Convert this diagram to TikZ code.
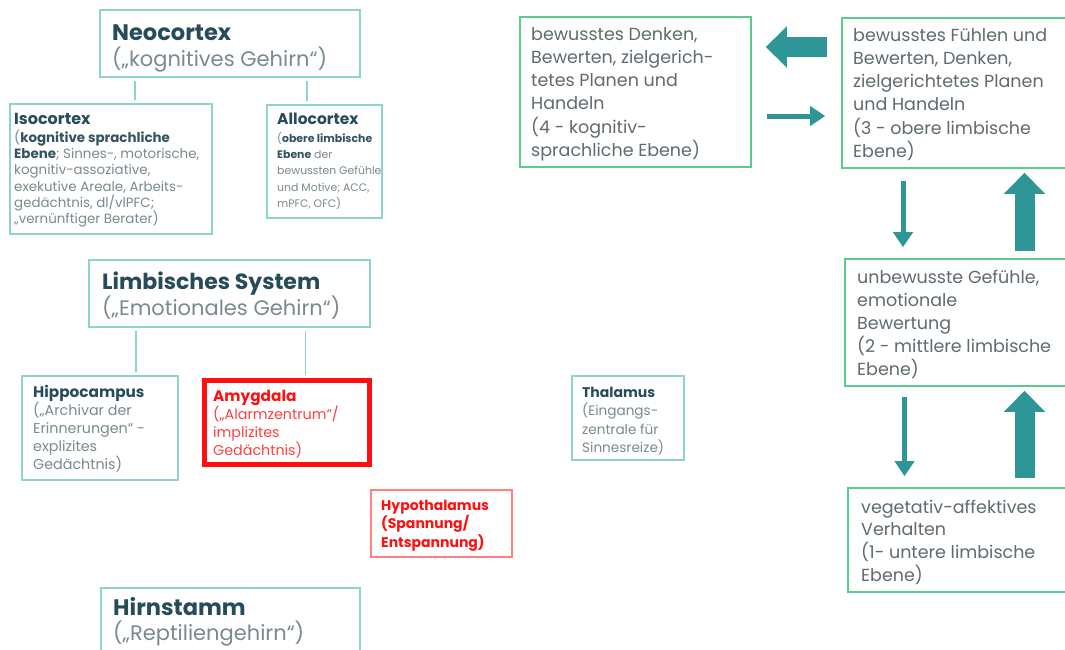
\documentclass[tikz,border=0pt]{standalone}
\usepackage{fontspec}
\setmainfont{Poppins}
\usetikzlibrary{arrows.meta,fit}
\definecolor{boxteal}{HTML}{8ED3CC}
\definecolor{boxgreen}{HTML}{5DCB8D}
\definecolor{arrowteal}{HTML}{2E9696}
\definecolor{titlecol}{HTML}{264B5A}
\definecolor{bodygray}{HTML}{7A8A8F}
\definecolor{rightgray}{HTML}{5F6B70}
\definecolor{alarmred}{HTML}{FF1010}
\definecolor{lightred}{HTML}{FF8080}
\newcommand\txtbox[2]{\parbox[t]{#1}{\raggedright\leavevmode #2}}
\tikzset{
  leftbox/.style={draw=boxteal, line width=1.3pt, inner sep=0pt},
  rightbox/.style={draw=boxgreen, line width=1.6pt, inner sep=0pt},
  redbox/.style={draw=alarmred, line width=5pt, inner sep=0pt},
  hypobox/.style={draw=lightred, line width=1.2pt, inner sep=0pt},
  txt/.style={anchor=base west, inner sep=0pt},
  conn/.style={draw=boxteal, line width=1.2pt, shorten >=3pt, shorten <=3pt},
  thickarrow/.style={draw=arrowteal, line width=20pt, -{Triangle[width=40pt,length=21pt]}},
  thinarrow/.style={draw=arrowteal, line width=5pt, -{Triangle[width=19pt,length=15pt]}},
}
\begin{document}
\begin{tikzpicture}[x=1pt,y=-1pt]
\useasboundingbox[fill=white] (0,0) rectangle (1065,649);
% ---- left boxes
\node[leftbox, fit={(100,10) (360,77)}] (neo) {};
\node[leftbox, fit={(10,104) (212,234)}] (iso) {};
\node[leftbox, fit={(267,105) (382,218)}] (allo) {};
\node[leftbox, fit={(89,260) (370,327)}] (limb) {};
\node[leftbox, fit={(22,376) (178,480)}] (hippo) {};
\node[redbox, fit={(204.5,380.5) (369.5,464.5)}] (amyg) {};
\node[leftbox, fit={(572,376) (684,460)}] (thal) {};
\node[hypobox, fit={(371,490) (512,557)}] (hypo) {};
\node[leftbox, fit={(101,588) (360,665)}] (hirn) {};
% ---- left texts
\node[txt] (neoT) at (112,40) {\txtbox{260pt}{\fontsize{22.5}{26}\selectfont\color{titlecol}\textbf{Neocortex}\par
 \fontsize{21}{26}\selectfont\color{bodygray}(„kognitives Gehirn“)}};
\node[txt] (isoT) at (14,124) {\txtbox{200pt}{{\fontsize{16}{15}\selectfont\color{titlecol}\textbf{Isocortex}\par}
 \vspace{2pt}\fontsize{13.4}{16.3}\selectfont\color{bodygray}(\textcolor{titlecol!85!bodygray}{\textbf{kognitive sprachliche}}\\
 \textcolor{titlecol!85!bodygray}{\textbf{Ebene}}; Sinnes-, motorische,\\
 kognitiv-assoziative,\\
 exekutive Areale, Arbeits-\\
 gedächtnis, dl/vlPFC;\\
 „vernünftiger Berater)}};
\node[txt] (alloT) at (277,124) {\txtbox{120pt}{{\fontsize{15.5}{15}\selectfont\color{titlecol}\textbf{Allocortex}\par}
 \vspace{2pt}\fontsize{10.9}{16.3}\selectfont\color{bodygray}(\textcolor{titlecol!85!bodygray}{\textbf{obere limbische}}\\
 \textcolor{titlecol!85!bodygray}{\textbf{Ebene}} der\\
 bewussten Gefühle\\
 und Motive; ACC,\\
 mPFC, OFC)}};
\node[txt] (limbT) at (102,289) {\txtbox{280pt}{\fontsize{22}{26}\selectfont\color{titlecol}\textbf{Limbisches System}\par
 \fontsize{21}{26}\selectfont\color{bodygray}(„Emotionales Gehirn“)}};
\node[txt] (hippoT) at (33,397) {\txtbox{150pt}{{\fontsize{15.3}{17}\selectfont\color{titlecol}\textbf{Hippocampus}\par}
 \fontsize{14.3}{18}\selectfont\color{bodygray}(„Archivar der\\
 Erinnerungen“ -\\
 explizites\\
 Gedächtnis)}};
\node[txt] (amygT) at (213,401) {\txtbox{155pt}{{\fontsize{15.3}{17}\selectfont\color{alarmred}\textbf{Amygdala}\par}
 \fontsize{14.3}{18}\selectfont\color{alarmred!80}(„Alarmzentrum“/\\
 implizites\\
 Gedächtnis)}};
\node[txt] (thalT) at (582,397) {\txtbox{100pt}{{\fontsize{14}{17}\selectfont\color{titlecol}\textbf{Thalamus}\par}
 \fontsize{13.6}{18.5}\selectfont\color{bodygray}(Eingangs-\\
 zentrale für\\
 Sinnesreize)}};
\node[txt] (hypoT) at (381,510) {\txtbox{130pt}{\fontsize{14}{18.5}\selectfont\color{alarmred}\bfseries Hypothalamus\\
 (Spannung/\\
 Entspannung)}};
\node[txt] (hirnT) at (113,615) {\txtbox{260pt}{\fontsize{22.5}{25}\selectfont\color{titlecol}\textbf{Hirnstamm}\par
 \fontsize{21}{25}\selectfont\color{bodygray}(„Reptiliengehirn“)}};
% ---- left connectors
\draw[conn] ([xshift=24pt]iso.north) -- ([xshift=24pt]iso.north |- neo.south);
\draw[conn] ([xshift=-17.5pt]allo.north) -- ([xshift=-17.5pt]allo.north |- neo.south);
\draw[conn] ([xshift=36pt]hippo.north) -- ([xshift=36pt]hippo.north |- limb.south);
\draw[conn] ([xshift=18.5pt]amyg.north) -- ([xshift=18.5pt]amyg.north |- limb.south);
% ---- right boxes
\node[rightbox, fit={(520,17) (751,167)}] (four) {};
\node[rightbox, fit={(842,18) (1070,168)}] (three) {};
\node[rightbox, fit={(845,259) (1070,386)}] (two) {};
\node[rightbox, fit={(848,488) (1070,592)}] (one) {};
\node[txt] (fourT) at (531,40) {\txtbox{220pt}{\fontsize{17.5}{23.3}\selectfont\color{rightgray}bewusstes Denken,\\
 Bewerten, zielgerich-\\
 tetes Planen und\\
 Handeln\\
 (4 - kognitiv-\\
 sprachliche Ebene)}};
\node[txt] (threeT) at (853,41) {\txtbox{220pt}{\fontsize{17.5}{23.3}\selectfont\color{rightgray}bewusstes Fühlen und\\
 Bewerten, Denken,\\
 zielgerichtetes Planen\\
 und Handeln\\
 (3 - obere limbische\\
 Ebene)}};
\node[txt] (twoT) at (857,283) {\txtbox{220pt}{\fontsize{17.5}{23}\selectfont\color{rightgray}unbewusste Gefühle,\\
 emotionale\\
 Bewertung\\
 (2 - mittlere limbische\\
 Ebene)}};
\node[txt] (oneT) at (861,513) {\txtbox{220pt}{\fontsize{17.5}{22.8}\selectfont\color{rightgray}vegetativ-affektives\\
 Verhalten\\
 (1- untere limbische\\
 Ebene)}};
% ---- right arrows
\draw[thickarrow] ([yshift=46pt,xshift=-14pt]three.west) -- ([yshift=46pt,xshift=14pt]three.west -| four.east);
\draw[thinarrow] ([yshift=-24pt,xshift=15pt]four.east) -- ([yshift=-24pt,xshift=-16pt]four.east -| three.west);
\draw[thinarrow] ([xshift=-53pt,yshift=-12pt]three.south) -- ([xshift=-53pt,yshift=11pt]three.south |- two.north);
\draw[thickarrow] ([xshift=67pt,yshift=7pt]two.north) -- ([xshift=67pt,yshift=-4pt]two.north |- three.south);
\draw[thinarrow] ([xshift=-53pt,yshift=-10pt]two.south) -- ([xshift=-53pt,yshift=11pt]two.south |- one.north);
\draw[thickarrow] ([xshift=67pt,yshift=9pt]one.north -| two.north) -- ([xshift=67pt,yshift=-4pt]two.south);
\end{tikzpicture}
\end{document}
